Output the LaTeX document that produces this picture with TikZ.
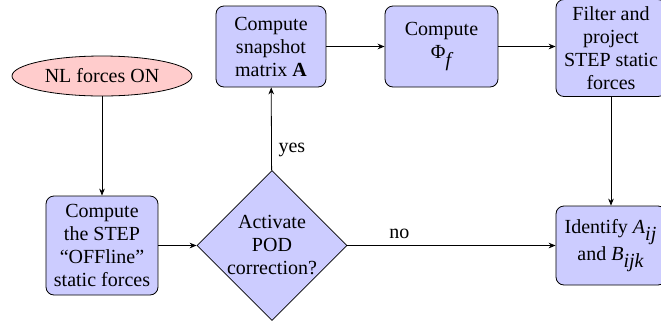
\documentclass[tikz,border=0pt]{standalone}
\usepackage{fontspec}
\setmainfont{Liberation Serif}
\usetikzlibrary{shapes.geometric,arrows.meta}
\begin{document}
\begin{tikzpicture}[x=0.5pt,y=-0.5pt,
  font=\fontsize{10pt}{11.5pt}\selectfont,
  box/.style={draw,rounded corners=4pt,fill=blue!20,align=center,inner sep=1pt},
  startnode/.style={draw,ellipse,fill=red!20,minimum width=90pt,minimum height=20pt,inner sep=1pt},
  decision/.style={draw,diamond,aspect=1,fill=blue!20,align=center,minimum width=75pt,minimum height=75pt,inner sep=0pt},
  conn/.style={-{Stealth[length=3.5pt,width=2.8pt]}}]
\useasboundingbox (0,0) rectangle (661,328);
\node[startnode] (nl) at (102,76) {NL forces ON};
\node[box,minimum width=56pt,minimum height=49.5pt] (off) at (102,245.5) {Compute\\the STEP\\``OFFline''\\static forces};
\node[decision] (pod) at (272,245.5) {Activate\\POD\\correction?};
\node[box,minimum width=55pt,minimum height=40.5pt] (snap) at (271,46.5) {Compute\\snapshot\\matrix \textbf{A}};
\node[box,minimum width=56.5pt,minimum height=40.5pt] (phi) at (441.5,46.5) {Compute\\Φ$_{\textit{f}}$};
\node[box,minimum width=55pt,minimum height=48.5pt] (filt) at (611,48) {Filter and\\project\\STEP static\\forces};
\node[box,minimum width=55pt,minimum height=39.5pt] (id) at (611,245.5) {Identify \textit{A}$_{\textit{ij}}$\\and \textit{B}$_{\textit{ijk}}$};
\draw[conn] (nl) -- (off);
\draw[conn] (off) -- (pod);
\draw[conn] (pod) -- node[near start,right] {yes} (snap);
\draw[conn,semithick] (snap) -- (phi);
\draw[conn] (phi) -- (filt.west |- phi);
\draw[conn] (filt) -- (id);
\draw[conn] (pod) -- node[near start,above] {no} (id);
\end{tikzpicture}
\end{document}
